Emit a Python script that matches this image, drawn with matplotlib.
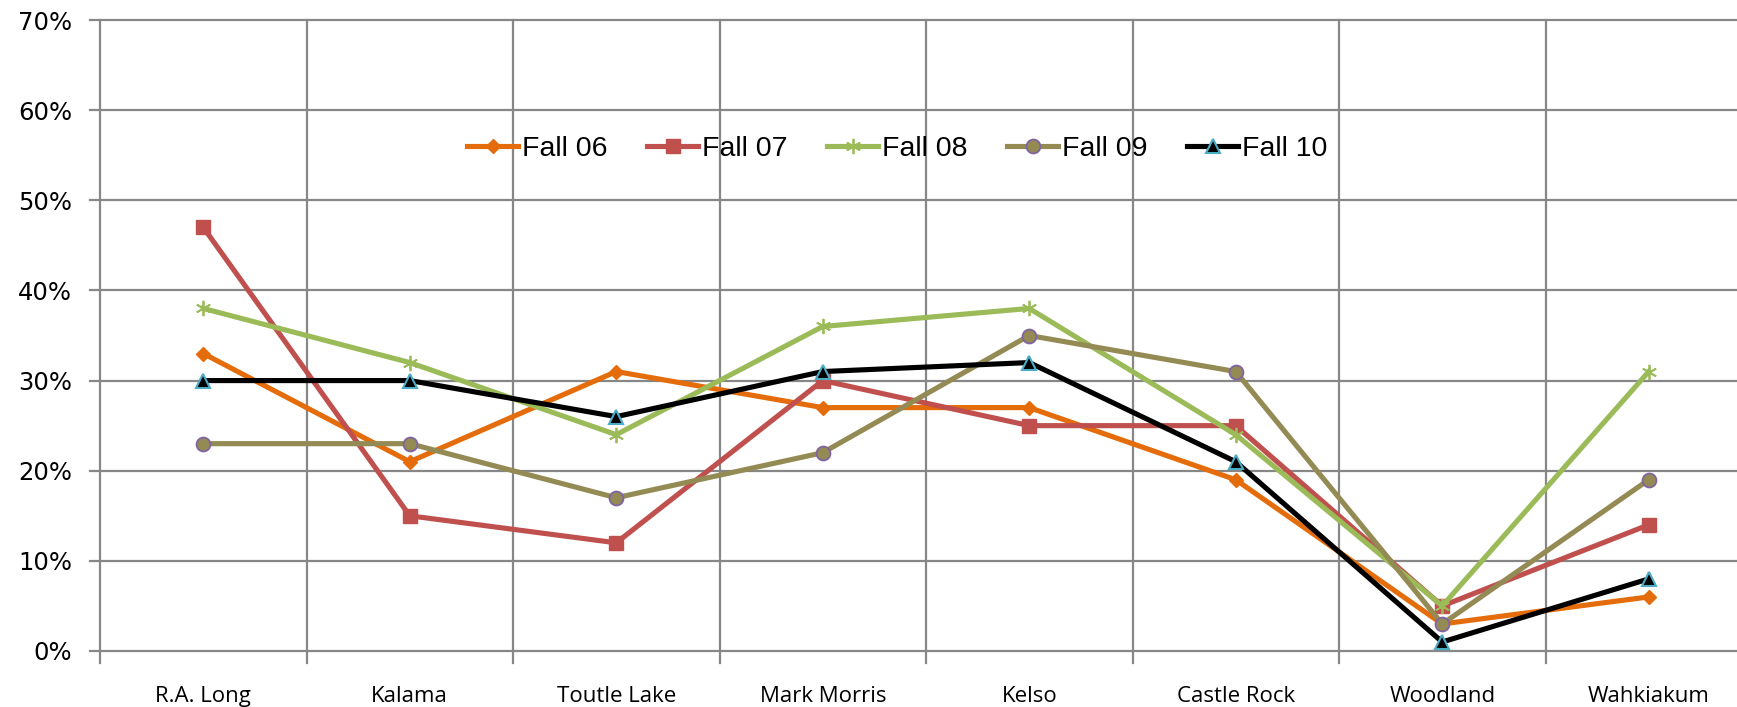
import matplotlib
matplotlib.use("Agg")
import matplotlib.pyplot as plt
from matplotlib.ticker import FuncFormatter

schools = ["R.A. Long", "Kalama", "Toutle Lake", "Mark Morris", "Kelso",
           "Castle Rock", "Woodland", "Wahkiakum"]
fall06 = [33, 21, 31, 27, 27, 19, 3, 6]
fall07 = [47, 15, 12, 30, 25, 25, 5, 14]
fall08 = [38, 32, 24, 36, 38, 24, 5, 31]
fall09 = [23, 23, 17, 22, 35, 31, 3, 19]
fall10 = [30, 30, 26, 31, 32, 21, 1, 8]
series_names = ["Fall 06", "Fall 07", "Fall 08", "Fall 09", "Fall 10"]
y_ticks = [0, 10, 20, 30, 40, 50, 60, 70]

W, H = 1737, 707
fig = plt.figure(figsize=(W / 100, H / 100), dpi=100)
left, right, top, bottom = 100, 1752, 20, 651
ax = fig.add_axes([left / W, 1 - bottom / H, (right - left) / W, (bottom - top) / H])

x = list(range(len(schools)))
grid_c = "#878787"

styles = [
    dict(color="#E46C0A", marker="D", markersize=7.5, markerfacecolor="#E46C0A",
         markeredgecolor="#E46C0A"),
    dict(color="#C0504D", marker="s", markersize=9.5, markerfacecolor="#C0504D",
         markeredgecolor="#C0504D"),
    dict(color="#9BBB59", marker=(6, 2, 0), markersize=11, markeredgewidth=1.3,
         markeredgecolor="#9BBB59"),
    dict(color="#948A54", marker="o", markersize=10, markerfacecolor="#948A54",
         markeredgecolor="#8064A2", markeredgewidth=1.3),
    dict(color="#000000", marker="^", markersize=10, markerfacecolor="#000000",
         markeredgecolor="#4BACC6", markeredgewidth=1.5),
]
data = [fall06, fall07, fall08, fall09, fall10]
for i, (vals, name, st) in enumerate(zip(data, series_names, styles)):
    ax.plot(x, vals, label=name, linewidth=3.7, zorder=3 + i, clip_on=False, **st)

ax.set_xlim(-0.5, len(schools) - 0.5)
ax.set_ylim(0, 70)
ax.set_yticks(y_ticks)
ax.yaxis.set_major_formatter(FuncFormatter(lambda v, p: f"{int(v)}%"))
for yv in y_ticks:
    ax.axhline(yv, color=grid_c, linewidth=1.6, zorder=1, clip_on=False,
               xmin=-0.006, xmax=1.0)
for b in range(len(schools)):
    ax.plot([b - 0.5, b - 0.5], [-1.3, 70], color=grid_c, linewidth=1.6,
            zorder=1, clip_on=False)

ax.set_xticks(x)
ax.set_xticklabels(schools, fontsize=16, family="Open Sans")
ax.tick_params(axis="x", length=0, pad=25)
ax.tick_params(axis="y", length=0, pad=20, labelsize=17.5)
for lab in ax.get_yticklabels():
    lab.set_family("DejaVu Sans")
for s in ax.spines.values():
    s.set_visible(False)

leg = ax.legend(loc="center", bbox_to_anchor=(0.4825, 0.795), ncol=5, frameon=False,
                handlelength=1.8, columnspacing=1.4, handletextpad=0.12,
                prop={"family": "Liberation Sans", "size": 20.5})
fig.savefig("out.png", dpi=100)
